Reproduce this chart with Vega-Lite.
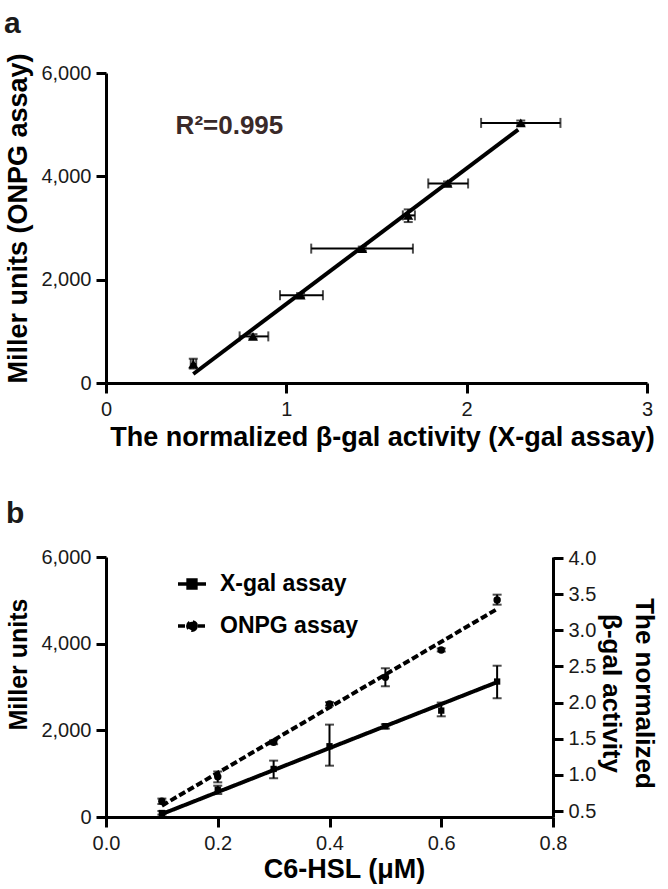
{
  "$schema": "https://vega.github.io/schema/vega-lite/v6.json",
  "padding": {"left": 3, "top": 8, "right": 12, "bottom": 6},
  "spacing": 49,
  "datasets": {
    "pa": [
      {"x": 0.484, "xlo": 0.47, "xhi": 0.50, "y": 367, "ylo": 280, "yhi": 470},
      {"x": 0.815, "xlo": 0.741, "xhi": 0.900, "y": 902, "ylo": 860, "yhi": 945},
      {"x": 1.079, "xlo": 0.965, "xhi": 1.203, "y": 1699, "ylo": 1660, "yhi": 1740},
      {"x": 1.421, "xlo": 1.138, "xhi": 1.702, "y": 2601, "ylo": 2560, "yhi": 2640},
      {"x": 1.676, "xlo": 1.646, "xhi": 1.713, "y": 3244, "ylo": 3115, "yhi": 3360},
      {"x": 1.894, "xlo": 1.787, "xhi": 2.008, "y": 3862, "ylo": 3820, "yhi": 3900},
      {"x": 2.30, "xlo": 2.08, "xhi": 2.52, "y": 5034, "ylo": 4990, "yhi": 5080}
    ],
    "paline": [{"x": 0.484, "y": 174}, {"x": 2.286, "y": 4905}],
    "onpg": [
      {"c": 0.1, "v": 362, "lo": 300, "hi": 425},
      {"c": 0.2, "v": 931, "lo": 800, "hi": 1050},
      {"c": 0.3, "v": 1724, "lo": 1680, "hi": 1770},
      {"c": 0.4, "v": 2608, "lo": 2570, "hi": 2650},
      {"c": 0.5, "v": 3224, "lo": 3017, "hi": 3432},
      {"c": 0.6, "v": 3854, "lo": 3820, "hi": 3890},
      {"c": 0.7, "v": 5008, "lo": 4900, "hi": 5131}
    ],
    "onpgline": [{"c": 0.1, "v": 261, "series": "ONPG assay"}, {"c": 0.7, "v": 4800, "series": "ONPG assay"}],
    "xgal": [
      {"c": 0.1, "v": 0.472, "lo": 0.45, "hi": 0.50},
      {"c": 0.2, "v": 0.795, "lo": 0.735, "hi": 0.85},
      {"c": 0.3, "v": 1.082, "lo": 0.953, "hi": 1.197},
      {"c": 0.4, "v": 1.396, "lo": 1.127, "hi": 1.695},
      {"c": 0.5, "v": 1.673, "lo": 1.64, "hi": 1.70},
      {"c": 0.6, "v": 1.889, "lo": 1.81, "hi": 2.00},
      {"c": 0.7, "v": 2.291, "lo": 2.06, "hi": 2.51}
    ],
    "xgalline": [{"c": 0.1, "v": 0.458, "series": "X-gal assay"}, {"c": 0.7, "v": 2.283, "series": "X-gal assay"}]
  },
  "vconcat": [
    {
      "width": 541,
      "height": 310,
      "title": {"text": "a", "offset": 14},
      "layer": [
        {
          "data": {"name": "pa"},
          "mark": {"type": "rule", "strokeWidth": 2, "color": "#000"},
          "encoding": {
            "x": {"field": "xlo", "type": "quantitative", "title": "The normalized β-gal activity (X-gal assay)",
              "scale": {"domain": [0, 3], "nice": false},
              "axis": {"values": [0, 1, 2, 3], "tickCount": 10, "format": "d", "labelPadding": 6, "titleX": 276, "titleY": 62, "titleBaseline": "alphabetic", "titleAlign": "center"}},
            "x2": {"field": "xhi"},
            "y": {"field": "y", "type": "quantitative", "title": "Miller units (ONPG assay)",
              "scale": {"domain": [0, 6000], "nice": false},
              "axis": {"values": [0, 2000, 4000, 6000], "tickCount": 10, "format": ",d", "labelPadding": 5, "titleX": -80, "titleY": 145, "titleBaseline": "alphabetic", "titleAlign": "center", "titleAngle": -90}}
          }
        },
        {
          "data": {"name": "pa"},
          "mark": {"type": "tick", "orient": "vertical", "size": 10, "thickness": 2, "color": "#000"},
          "encoding": {
            "x": {"field": "xlo", "type": "quantitative", "title": "The normalized β-gal activity (X-gal assay)"},
            "y": {"field": "y", "type": "quantitative", "title": "Miller units (ONPG assay)"}
          }
        },
        {
          "data": {"name": "pa"},
          "mark": {"type": "tick", "orient": "vertical", "size": 10, "thickness": 2, "color": "#000"},
          "encoding": {
            "x": {"field": "xhi", "type": "quantitative", "title": "The normalized β-gal activity (X-gal assay)"},
            "y": {"field": "y", "type": "quantitative", "title": "Miller units (ONPG assay)"}
          }
        },
        {
          "data": {"name": "pa"},
          "mark": {"type": "rule", "strokeWidth": 2, "color": "#000"},
          "encoding": {
            "x": {"field": "x", "type": "quantitative", "title": "The normalized β-gal activity (X-gal assay)"},
            "y": {"field": "ylo", "type": "quantitative", "title": "Miller units (ONPG assay)"},
            "y2": {"field": "yhi"}
          }
        },
        {
          "data": {"name": "pa"},
          "mark": {"type": "tick", "orient": "horizontal", "size": 9, "thickness": 2, "color": "#000"},
          "encoding": {
            "x": {"field": "x", "type": "quantitative", "title": "The normalized β-gal activity (X-gal assay)"},
            "y": {"field": "ylo", "type": "quantitative", "title": "Miller units (ONPG assay)"}
          }
        },
        {
          "data": {"name": "pa"},
          "mark": {"type": "tick", "orient": "horizontal", "size": 9, "thickness": 2, "color": "#000"},
          "encoding": {
            "x": {"field": "x", "type": "quantitative", "title": "The normalized β-gal activity (X-gal assay)"},
            "y": {"field": "yhi", "type": "quantitative", "title": "Miller units (ONPG assay)"}
          }
        },
        {
          "data": {"name": "paline"},
          "mark": {"type": "line", "strokeWidth": 4, "color": "#000"},
          "encoding": {
            "x": {"field": "x", "type": "quantitative", "title": "The normalized β-gal activity (X-gal assay)"},
            "y": {"field": "y", "type": "quantitative", "title": "Miller units (ONPG assay)"}
          }
        },
        {
          "data": {"name": "pa"},
          "mark": {"type": "point", "shape": "triangle-up", "filled": true, "size": 100, "color": "#000", "opacity": 1},
          "encoding": {
            "x": {"field": "x", "type": "quantitative", "title": "The normalized β-gal activity (X-gal assay)"},
            "y": {"field": "y", "type": "quantitative", "title": "Miller units (ONPG assay)"}
          }
        },
        {
          "data": {"values": [{"label": "R²=0.995"}]},
          "mark": {"type": "text", "fontSize": 26, "fontWeight": "bold", "align": "left", "baseline": "alphabetic", "color": "#3a2a29"},
          "encoding": {
            "x": {"datum": 0.386, "type": "quantitative"},
            "y": {"datum": 4811, "type": "quantitative"},
            "text": {"field": "label"}
          }
        }
      ]
    },
    {
      "width": 447,
      "height": 260,
      "title": {"text": "b", "offset": 18},
      "layer": [
        {
          "layer": [
            {
              "data": {"name": "onpg"},
              "mark": {"type": "rule", "strokeWidth": 2, "color": "#000"},
              "encoding": {
                "x": {"field": "c", "type": "quantitative", "title": "C6-HSL (μM)",
                  "scale": {"domain": [0, 0.8], "nice": false},
                  "axis": {"values": [0, 0.2, 0.4, 0.6, 0.8], "tickCount": 10, "format": ".1f", "labelPadding": 6, "titleX": 238, "titleY": 60, "titleBaseline": "alphabetic", "titleAlign": "center"}},
                "y": {"field": "lo", "type": "quantitative", "title": "Miller units",
                  "scale": {"domain": [0, 6000], "nice": false},
                  "axis": {"orient": "left", "values": [0, 2000, 4000, 6000], "tickCount": 10, "format": ",d", "labelPadding": 5, "titleX": -80, "titleY": 107, "titleBaseline": "alphabetic", "titleAlign": "center", "titleAngle": -90, "titleFontSize": 25}},
                "y2": {"field": "hi"}
              }
            },
            {
              "data": {"name": "onpg"},
              "mark": {"type": "tick", "orient": "horizontal", "size": 9, "thickness": 2, "color": "#000"},
              "encoding": {
                "x": {"field": "c", "type": "quantitative", "title": "C6-HSL (μM)"},
                "y": {"field": "lo", "type": "quantitative", "title": "Miller units"}
              }
            },
            {
              "data": {"name": "onpg"},
              "mark": {"type": "tick", "orient": "horizontal", "size": 9, "thickness": 2, "color": "#000"},
              "encoding": {
                "x": {"field": "c", "type": "quantitative", "title": "C6-HSL (μM)"},
                "y": {"field": "hi", "type": "quantitative", "title": "Miller units"}
              }
            },
            {
              "data": {"name": "onpgline"},
              "mark": {"type": "line", "strokeWidth": 4, "color": "#000"},
              "encoding": {
                "x": {"field": "c", "type": "quantitative", "title": "C6-HSL (μM)"},
                "y": {"field": "v", "type": "quantitative", "title": "Miller units"},
                "strokeDash": {"field": "series", "type": "nominal",
                  "scale": {"domain": ["X-gal assay", "ONPG assay"], "range": [[1, 0], [7, 3]]},
                  "legend": {
                    "title": null, "orient": "none", "legendX": 70, "legendY": 495, "padding": 0,
                    "symbolSize": 784, "symbolStrokeWidth": 3.5, "symbolStrokeColor": "#000", "symbolFillColor": "#000",
                    "symbolType": "M-1,0H1M-0.28,-0.28H0.28V0.28H-0.28Z",
                    "labelFontSize": 23, "labelFontWeight": "bold", "labelColor": "#000", "labelOffset": 12, "rowPadding": 14,
                    "encode": {"symbols": {"update": {
                      "shape": {"signal": "datum.value === 'ONPG assay' ? 'M-1,0H1M0.3,0A0.3,0.3,0,1,1,-0.3,0A0.3,0.3,0,1,1,0.3,0Z' : 'M-1,0H1M-0.28,-0.28H0.28V0.28H-0.28Z'"},
                      "fill": {"value": "#000"}, "stroke": {"value": "#000"}, "strokeWidth": {"value": 3.5}, "size": {"value": 784}
                    }}}
                  }}
              }
            },
            {
              "data": {"name": "onpg"},
              "mark": {"type": "point", "shape": "circle", "filled": true, "size": 55, "color": "#000", "opacity": 1},
              "encoding": {
                "x": {"field": "c", "type": "quantitative", "title": "C6-HSL (μM)"},
                "y": {"field": "v", "type": "quantitative", "title": "Miller units"}
              }
            }
          ]
        },
        {
          "layer": [
            {
              "data": {"name": "xgal"},
              "mark": {"type": "rule", "strokeWidth": 2, "color": "#000"},
              "encoding": {
                "x": {"field": "c", "type": "quantitative", "title": "C6-HSL (μM)"},
                "y": {"field": "lo", "type": "quantitative", "title": ["The normalized", "β-gal activity"],
                  "scale": {"domain": [0.417, 4.014], "nice": false, "zero": false},
                  "axis": {"orient": "right", "values": [0.5, 1, 1.5, 2, 2.5, 3, 3.5, 4], "tickCount": 12, "format": ".1f", "labelPadding": 5, "titleX": 82, "titleY": 136, "titleBaseline": "alphabetic", "titleAlign": "center", "titleAngle": 90, "titleLineHeight": 33, "titleFontSize": 26}},
                "y2": {"field": "hi"}
              }
            },
            {
              "data": {"name": "xgal"},
              "mark": {"type": "tick", "orient": "horizontal", "size": 9, "thickness": 2, "color": "#000"},
              "encoding": {
                "x": {"field": "c", "type": "quantitative", "title": "C6-HSL (μM)"},
                "y": {"field": "lo", "type": "quantitative", "title": ["The normalized", "β-gal activity"]}
              }
            },
            {
              "data": {"name": "xgal"},
              "mark": {"type": "tick", "orient": "horizontal", "size": 9, "thickness": 2, "color": "#000"},
              "encoding": {
                "x": {"field": "c", "type": "quantitative", "title": "C6-HSL (μM)"},
                "y": {"field": "hi", "type": "quantitative", "title": ["The normalized", "β-gal activity"]}
              }
            },
            {
              "data": {"name": "xgalline"},
              "mark": {"type": "line", "strokeWidth": 4, "color": "#000"},
              "encoding": {
                "x": {"field": "c", "type": "quantitative", "title": "C6-HSL (μM)"},
                "y": {"field": "v", "type": "quantitative", "title": ["The normalized", "β-gal activity"]},
                "strokeDash": {"field": "series", "type": "nominal",
                  "scale": {"domain": ["X-gal assay", "ONPG assay"], "range": [[1, 0], [7, 3]]}}
              }
            },
            {
              "data": {"name": "xgal"},
              "mark": {"type": "point", "shape": "square", "filled": true, "size": 40, "color": "#000", "opacity": 1},
              "encoding": {
                "x": {"field": "c", "type": "quantitative", "title": "C6-HSL (μM)"},
                "y": {"field": "v", "type": "quantitative", "title": ["The normalized", "β-gal activity"]}
              }
            }
          ]
        }
      ],
      "resolve": {"scale": {"y": "independent"}}
    }
  ],
  "config": {
    "font": "Liberation Sans",
    "view": {"stroke": null},
    "title": {"fontSize": 30, "fontWeight": "bold", "anchor": "start", "frame": "bounds", "color": "#1a1a1a", "baseline": "alphabetic"},
    "axis": {
      "grid": false,
      "labelFlush": false,
      "labelOverlap": false,
      "domainColor": "#000", "domainWidth": 3,
      "tickColor": "#000", "tickWidth": 3, "tickSize": 10,
      "labelFont": "Liberation Sans", "labelFontSize": 20, "labelColor": "#1a1a1a",
      "titleFont": "Liberation Sans", "titleFontSize": 27, "titleFontWeight": "bold", "titleColor": "#000"
    }
  }
}
